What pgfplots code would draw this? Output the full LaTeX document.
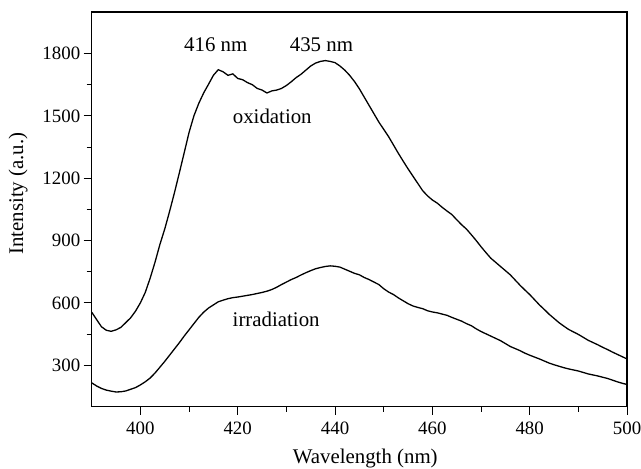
\documentclass[border=0pt]{standalone}
\usepackage{fontspec}
\setmainfont{Liberation Serif}
\usepackage{pgfplots}
\pgfplotsset{compat=1.18}
\begin{document}
\begin{tikzpicture}
\path[use as bounding box] (-92bp,-62bp) rectangle (551bp,408bp);
\begin{axis}[
 width=537bp, height=396bp, scale only axis,
 xmin=390, xmax=500, ymin=100, ymax=2000,
 xtick={400,420,...,500}, ytick={300,600,...,1800},
 minor x tick num=1, minor y tick num=1,
 tick align=outside, xtick pos=bottom, ytick pos=left,
 major tick length=8bp, minor tick length=5bp,
 tick style={black, line width=0.9bp},
 axis line style={black, line width=1.2bp},
 ticklabel style={font=\fontsize{19}{22}\selectfont},
 xticklabel style={yshift=-4bp},
 /pgf/number format/assume math mode=true,
 /pgf/number format/1000 sep={},
 xlabel={Wavelength (nm)}, ylabel={Intensity (a.u.)},
 label style={font=\fontsize{21}{24}\selectfont},
 xlabel style={at={(axis description cs:0.511,-0.1313)}, anchor=center},
 ylabel style={at={(axis description cs:-0.1372,0.54)}, anchor=center},
]
\addplot[black, line width=1.3bp] coordinates {
(390,555)(391,520)(392,485)(393,468)(394,463)(395,470)(396,482)(397,505)(398,528)(399,560)
(400,600)(401,650)(402,718)(403,795)(404,880)(405,955)(406,1040)(407,1130)(408,1225)(409,1322)
(410,1420)(411,1500)(412,1560)(413,1610)(414,1652)(415,1695)(416,1722)(417,1712)(418,1695)(419,1702)
(420,1680)(421,1674)(422,1660)(423,1650)(424,1632)(425,1624)(426,1610)(427,1620)(428,1624)(429,1632)
(430,1646)(431,1664)(432,1684)(433,1700)(434,1720)(435,1740)(436,1754)(437,1762)(438,1766)(439,1762)
(440,1756)(441,1740)(442,1720)(443,1695)(444,1665)(445,1630)(446,1590)(447,1550)(448,1510)(449,1470)
(450,1435)(451,1400)(452,1360)(453,1320)(454,1282)(455,1245)(456,1210)(457,1175)(458,1140)(459,1115)
(460,1095)(461,1080)(462,1060)(463,1042)(464,1025)(465,1000)(466,976)(467,955)(468,928)(469,900)
(470,870)(471,842)(472,815)(473,795)(474,775)(475,755)(476,735)(477,710)(478,685)(479,662)
(480,640)(481,615)(482,590)(483,568)(484,545)(485,525)(486,505)(487,488)(488,472)(489,460)
(490,448)(491,434)(492,420)(493,409)(494,398)(495,386)(496,375)(497,363)(498,352)(499,341)(500,330)
};
\addplot[black, line width=1.3bp] coordinates {
(390,215)(391,200)(392,188)(393,180)(394,175)(395,171)(396,172)(397,176)(398,184)(399,192)
(400,205)(401,220)(402,238)(403,262)(404,290)(405,318)(406,348)(407,378)(408,408)(409,440)
(410,470)(411,500)(412,530)(413,555)(414,575)(415,590)(416,605)(417,613)(418,620)(419,625)
(420,628)(421,632)(422,636)(423,640)(424,645)(425,650)(426,656)(427,664)(428,675)(429,688)
(430,700)(431,712)(432,722)(433,734)(434,745)(435,755)(436,764)(437,770)(438,775)(439,778)
(440,776)(441,772)(442,762)(443,752)(444,742)(445,735)(446,722)(447,712)(448,700)(449,688)
(450,668)(451,652)(452,640)(453,624)(454,610)(455,596)(456,585)(457,578)(458,572)(459,562)
(460,556)(461,552)(462,546)(463,540)(464,530)(465,521)(466,512)(467,500)(468,490)(469,475)
(470,462)(471,451)(472,440)(473,429)(474,418)(475,404)(476,390)(477,380)(478,370)(479,358)
(480,348)(481,339)(482,330)(483,320)(484,310)(485,302)(486,295)(487,288)(488,282)(489,277)
(490,272)(491,265)(492,258)(493,253)(494,248)(495,242)(496,236)(497,228)(498,220)(499,213)(500,207)
};
\node[font=\fontsize{21}{24}\selectfont] at (axis cs:415.5,1842) {416 nm};
\node[font=\fontsize{21}{24}\selectfont] at (axis cs:437.2,1842) {435 nm};
\node[font=\fontsize{21}{24}\selectfont] at (axis cs:427.1,1498) {oxidation};
\node[font=\fontsize{21}{24}\selectfont] at (axis cs:427.9,522) {irradiation};
\end{axis}
\end{tikzpicture}
\end{document}
